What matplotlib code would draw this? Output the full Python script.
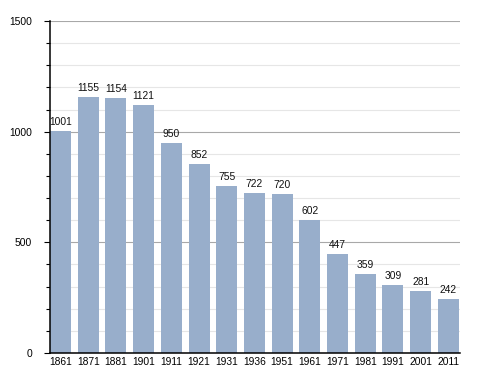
import numpy as np
import matplotlib
matplotlib.use("Agg")
from matplotlib import pyplot as plt
from matplotlib.ticker import MultipleLocator

plt.rcParams['font.family'] = ['Liberation Sans', 'DejaVu Sans']

years = ["1861", "1871", "1881", "1901", "1911", "1921", "1931", "1936",
         "1951", "1961", "1971", "1981", "1991", "2001", "2011"]
population = [1001, 1155, 1154, 1121, 950, 852, 755, 722, 720, 602,
              447, 359, 309, 281, 242]

fig = plt.figure(figsize=(4.88, 3.73), dpi=100)
ax = fig.add_axes([0.1025, 0.0536, 0.840, 0.890])

x = np.arange(len(years))
ax.bar(x, population, width=0.76, color="#98aecb", zorder=2)

for xi, v in zip(x, population):
    ax.text(xi, v + 18, str(v), ha="center", va="bottom", fontsize=7.4,
            color="#111111", zorder=3)

ax.set_xlim(-0.38, 14.42)
ax.set_ylim(0, 1500)
ax.set_xticks(x)
ax.set_xticklabels(years, fontsize=7.4)
ax.set_yticks([0, 500, 1000, 1500])
ax.set_yticklabels(["0", "500", "1000", "1500"], fontsize=7.4)
ax.yaxis.set_minor_locator(MultipleLocator(100))

ax.grid(axis="y", which="major", color="#a8a8a8", linewidth=0.8, zorder=0)
ax.grid(axis="y", which="minor", color="#e6e6e6", linewidth=0.8, zorder=0)
ax.set_axisbelow(True)

for s in ["top", "right"]:
    ax.spines[s].set_visible(False)
ax.spines["left"].set_linewidth(1.1)
ax.spines["bottom"].set_linewidth(1.1)
ax.tick_params(axis="x", length=0, pad=3)
ax.tick_params(axis="y", which="major", length=4, width=0.8, pad=9)
ax.tick_params(axis="y", which="minor", length=3, width=0.8)

fig.savefig("out.png", dpi=100)
